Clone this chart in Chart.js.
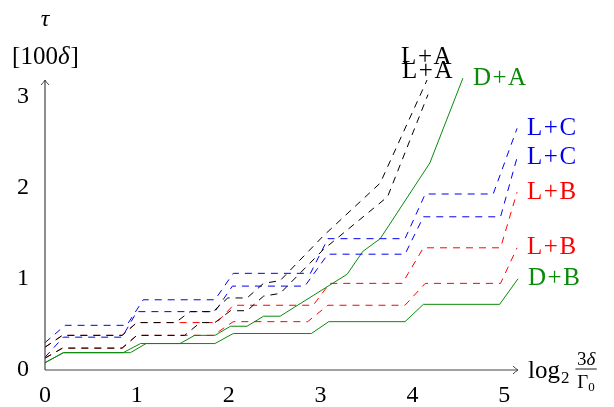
<!DOCTYPE html>
<html>
<head>
<meta charset="utf-8">
<script src="https://cdn.jsdelivr.net/npm/chart.js@4.4.1/dist/chart.umd.min.js"></script>
<style>
  html, body { margin: 0; padding: 0; background: #fff; }
  #wrap { width: 614px; height: 407px; }
</style>
</head>
<body>
<div id="wrap"><canvas id="plot" width="614" height="407"></canvas></div>
<script>
// x = log2(3δ/Γ0), y = τ in units of 100δ
const laTopX = [0, 0.19, 0.84, 1.0, 1.42, 1.58, 1.83, 1.99, 2.2, 2.38, 2.56, 3.03, 3.65, 4.16];
const laTopY = [0.25, 0.38, 0.38, 0.52, 0.52, 0.64, 0.64, 0.79, 0.79, 0.95, 0.98, 1.47, 2.05, 3.18];

const laLowX = [0, 0.19, 0.84, 1.0, 1.52, 1.69, 1.85, 2.02, 2.2, 2.38, 2.56, 3.03, 3.73, 4.17];
const laLowY = [0.13, 0.24, 0.24, 0.38, 0.38, 0.52, 0.52, 0.65, 0.65, 0.81, 0.84, 1.32, 1.9, 3.02];

const daX = [0, 0.2, 0.85, 1.04, 1.47, 1.63, 1.85, 2.02, 2.2, 2.38, 2.56, 3.29, 3.46, 3.65, 4.19, 4.55];
const daY = [0.08, 0.19, 0.19, 0.29, 0.29, 0.38, 0.38, 0.48, 0.48, 0.59, 0.59, 1.05, 1.3, 1.44, 2.27, 3.2];

const lcTopX = [0, 0.22, 0.89, 1.07, 1.85, 2.05, 2.89, 3.08, 3.92, 4.14, 4.88, 5.14];
const lcTopY = [0.3, 0.49, 0.49, 0.77, 0.77, 1.06, 1.06, 1.44, 1.44, 1.93, 1.93, 2.65];

const lcLowX = [0, 0.2, 0.84, 1.0, 1.85, 2.04, 2.83, 3.08, 3.92, 4.12, 4.96, 5.14];
const lcLowY = [0.14, 0.36, 0.36, 0.64, 0.64, 0.92, 0.92, 1.27, 1.27, 1.68, 1.68, 2.33];

const lbTopX = [0, 0.19, 0.84, 1.0, 1.87, 2.05, 2.92, 3.1, 3.89, 4.12, 4.96, 5.14];
const lbTopY = [0.25, 0.38, 0.38, 0.52, 0.52, 0.71, 0.71, 0.95, 0.95, 1.34, 1.34, 1.95];

const lbLowX = [0, 0.19, 0.84, 1.0, 1.83, 2.05, 2.86, 3.08, 3.92, 4.14, 4.96, 5.14];
const lbLowY = [0.13, 0.24, 0.24, 0.38, 0.38, 0.53, 0.53, 0.71, 0.71, 0.95, 0.95, 1.34];

const dbX = [0, 0.2, 0.93, 1.1, 1.85, 2.05, 2.9, 3.09, 3.92, 4.12, 4.95, 5.15];
const dbY = [0.08, 0.19, 0.19, 0.29, 0.29, 0.4, 0.4, 0.53, 0.53, 0.72, 0.72, 1.0];

const xTicks = [0, 1, 2, 3, 4, 5];
const yTicks = [0, 1, 2, 3];

const BLACK = '#000000';
const GREEN = '#0a8a0a';
const BLUE = '#0000f0';
const RED = '#ff0000';
const SERIF = 'Liberation Serif';

function pts(xs, ys) {
    return xs.map((x, i) => ({ x: x, y: ys[i] }));
}

function fnt(size, italic) {
    return (italic ? 'italic ' : '') + size + 'px "' + SERIF + '", serif';
}

// name, colour, dashed, where the name sits
const series = [
    { name: 'L+A', x: laTopX, y: laTopY, color: BLACK, dash: true, place: 'above' },
    { name: 'L+A', x: laLowX, y: laLowY, color: BLACK, dash: true, place: 'above' },
    { name: 'L+C', x: lcTopX, y: lcTopY, color: BLUE, dash: true, place: 'right' },
    { name: 'L+C', x: lcLowX, y: lcLowY, color: BLUE, dash: true, place: 'right' },
    { name: 'L+B', x: lbTopX, y: lbTopY, color: RED, dash: true, place: 'right' },
    { name: 'L+B', x: lbLowX, y: lbLowY, color: RED, dash: true, place: 'right' },
    { name: 'D+A', x: daX, y: daY, color: GREEN, dash: false, place: 'right' },
    { name: 'D+B', x: dbX, y: dbY, color: GREEN, dash: false, place: 'right' }
];

// axes with arrow tips, curve names, axis titles
const decorations = {
    id: 'decorations',
    afterDatasetsDraw(chart) {
        const ctx = chart.ctx;
        const area = chart.chartArea;
        const xs = chart.scales.x;
        const ys = chart.scales.y;
        const x0 = xs.getPixelForValue(0);
        const y0 = ys.getPixelForValue(0);

        ctx.save();
        ctx.strokeStyle = '#444';
        ctx.lineWidth = 1.2;
        ctx.beginPath();
        ctx.moveTo(x0, y0);
        ctx.lineTo(area.right, y0);
        ctx.moveTo(x0, y0);
        ctx.lineTo(x0, area.top);
        ctx.stroke();

        // arrow tips
        ctx.lineWidth = 1;
        ctx.beginPath();
        ctx.moveTo(area.right - 5, y0 - 4);
        ctx.quadraticCurveTo(area.right - 2, y0 - 1, area.right, y0);
        ctx.quadraticCurveTo(area.right - 2, y0 + 1, area.right - 5, y0 + 4);
        ctx.moveTo(x0 - 4, area.top + 5);
        ctx.quadraticCurveTo(x0 - 1, area.top + 2, x0, area.top);
        ctx.quadraticCurveTo(x0 + 1, area.top + 2, x0 + 4, area.top + 5);
        ctx.stroke();

        // curve names
        ctx.font = fnt(25);
        ctx.letterSpacing = '1.5px';
        ctx.textBaseline = 'middle';
        series.forEach(s => {
            const n = s.x.length - 1;
            const px = xs.getPixelForValue(s.x[n]);
            const py = ys.getPixelForValue(s.y[n]);
            ctx.fillStyle = s.color;
            if (s.place === 'above') {
                ctx.textAlign = 'center';
                ctx.fillText(s.name, px, py - 23);
            } else {
                ctx.textAlign = 'left';
                ctx.fillText(s.name, px + 10, py);
            }
        });
        ctx.letterSpacing = '0px';

        // y title
        ctx.fillStyle = '#000';
        ctx.textAlign = 'center';
        ctx.textBaseline = 'alphabetic';
        ctx.font = fnt(24, true);
        ctx.fillText('τ', x0, 26);
        ctx.font = fnt(25);
        const w1 = ctx.measureText('[100').width;
        ctx.font = fnt(25, true);
        const w2 = ctx.measureText('δ').width;
        ctx.font = fnt(25);
        const w3 = ctx.measureText(']').width;
        let tx = x0 - (w1 + w2 + w3) / 2;
        ctx.textAlign = 'left';
        ctx.fillText('[100', tx, 64);
        ctx.font = fnt(25, true);
        ctx.fillText('δ', tx + w1, 64);
        ctx.font = fnt(25);
        ctx.fillText(']', tx + w1 + w2 + 1, 64);

        // x title: log2 (3δ / Γ0)
        let lx = area.right + 10;
        ctx.font = fnt(25);
        ctx.fillText('log', lx, y0 + 8);
        lx += ctx.measureText('log').width + 1;
        ctx.font = fnt(17);
        ctx.fillText('2', lx, y0 + 13);
        lx += ctx.measureText('2').width + 6;
        ctx.font = fnt(19);
        const num = ctx.measureText('3').width;
        ctx.font = fnt(19, true);
        const numD = ctx.measureText('δ').width;
        ctx.font = fnt(19);
        const den = ctx.measureText('Γ').width;
        ctx.font = fnt(13);
        const den0 = ctx.measureText('0').width;
        const fw = Math.max(num + numD, den + den0) + 3;
        ctx.font = fnt(19);
        ctx.fillText('3', lx + (fw - num - numD) / 2, y0 - 5);
        ctx.font = fnt(19, true);
        ctx.fillText('δ', lx + (fw - num - numD) / 2 + num, y0 - 5);
        ctx.font = fnt(19);
        ctx.fillText('Γ', lx + (fw - den - den0) / 2, y0 + 18);
        ctx.font = fnt(13);
        ctx.fillText('0', lx + (fw - den - den0) / 2 + den, y0 + 21);
        ctx.lineWidth = 0.9;
        ctx.strokeStyle = '#000';
        ctx.beginPath();
        ctx.moveTo(lx, y0 - 1);
        ctx.lineTo(lx + fw, y0 - 1);
        ctx.stroke();
        ctx.restore();
    }
};

function build() {
    new Chart(document.getElementById('plot').getContext('2d'), {
        type: 'scatter',
        data: {
            datasets: series.map(s => ({
                label: s.name,
                data: pts(s.x, s.y),
                showLine: true,
                borderColor: s.color,
                borderWidth: 1,
                borderDash: s.dash ? [7, 6] : [],
                pointRadius: 0,
                fill: false,
                tension: 0,
                clip: false
            }))
        },
        options: {
            responsive: false,
            animation: false,
            devicePixelRatio: 1,
            layout: { padding: { top: 80, right: 96, left: 0, bottom: 0 } },
            plugins: {
                legend: { display: false },
                tooltip: { enabled: false }
            },
            scales: {
                x: {
                    type: 'linear',
                    min: 0,
                    max: 5.15,
                    afterFit: s => { s.height = 37; },
                    afterBuildTicks: s => { s.ticks = xTicks.map(v => ({ value: v })); },
                    grid: { display: false, drawTicks: false },
                    border: { display: false },
                    ticks: {
                        color: '#000',
                        padding: 11,
                        font: { family: '"' + SERIF + '", serif', size: 24 },
                        callback: v => String(v)
                    }
                },
                y: {
                    type: 'linear',
                    min: 0,
                    max: 3.18,
                    afterFit: s => { s.width = 45; },
                    afterBuildTicks: s => { s.ticks = yTicks.map(v => ({ value: v })); },
                    grid: { display: false, drawTicks: false },
                    border: { display: false },
                    ticks: {
                        color: '#000',
                        padding: 16,
                        font: { family: '"' + SERIF + '", serif', size: 24 },
                        callback: v => String(v)
                    }
                }
            }
        },
        plugins: [decorations]
    });
}

Promise.all([
    document.fonts.load(fnt(24)),
    document.fonts.load(fnt(24, true))
]).then(build, build);
</script>
</body>
</html>
